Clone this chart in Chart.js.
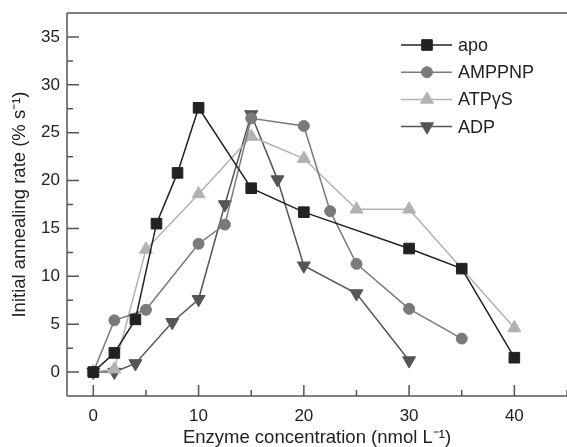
<!DOCTYPE html>
<html>
<head>
<meta charset="utf-8">
<script src="https://cdn.jsdelivr.net/npm/chart.js@4/dist/chart.umd.min.js"></script>
<style>
  html, body { margin: 0; padding: 0; background: #fff; }
  #wrap { width: 567px; height: 447px; position: relative; }
</style>
</head>
<body>
<div id="wrap"><canvas id="annealChart"></canvas></div>
<script>
// enzyme concentration (nmol/L) and initial annealing rate (%/s)
const apoX = [0, 2, 4, 6, 8, 10, 15, 20, 30, 35, 40];
const apoY = [0, 2, 5.5, 15.5, 20.8, 27.6, 19.2, 16.7, 12.9, 10.8, 1.5];

const amppnpX = [0, 2, 5, 10, 12.5, 15, 20, 22.5, 25, 30, 35];
const amppnpY = [0, 5.4, 6.5, 13.4, 15.4, 26.5, 25.7, 16.8, 11.3, 6.6, 3.5];

const atpgsX = [0, 2, 5, 10, 15, 20, 25, 30, 40];
const atpgsY = [0, 0.3, 12.8, 18.6, 24.6, 22.3, 17.0, 17.0, 4.6];

const adpX = [0, 2, 4, 7.5, 10, 12.5, 15, 17.5, 20, 25, 30];
const adpY = [0, 0, 0.9, 5.2, 7.6, 17.5, 26.9, 20.1, 11.1, 8.2, 1.2];

const xTicks = [0, 10, 20, 30, 40];
const xMinorTicks = [5, 15, 25, 35, 45];
const yTicks = [0, 5, 10, 15, 20, 25, 30, 35];
const yMinorTicks = [2.5, 7.5, 12.5, 17.5, 22.5, 27.5, 32.5];

const FONT = '"Liberation Sans", Arial, Helvetica, sans-serif';

function pts(xs, ys) {
  return xs.map((x, i) => ({ x: x, y: ys[i] }));
}

// axis frame (left, bottom, top) with inward ticks
const framePlugin = {
  id: 'frame',
  beforeDatasetsDraw(chart) {
    const { ctx, chartArea: a, scales } = chart;
    const xs = scales.x, ys = scales.y;
    ctx.save();
    ctx.strokeStyle = '#555';
    ctx.lineWidth = 1.5;
    ctx.beginPath();
    ctx.moveTo(a.left, a.top); ctx.lineTo(a.right, a.top);
    ctx.moveTo(a.left, a.top); ctx.lineTo(a.left, a.bottom);
    ctx.moveTo(a.left, a.bottom); ctx.lineTo(a.right, a.bottom);
    xTicks.forEach(v => { const p = xs.getPixelForValue(v); ctx.moveTo(p, a.bottom); ctx.lineTo(p, a.bottom - 11); });
    xMinorTicks.forEach(v => { const p = xs.getPixelForValue(v); ctx.moveTo(p, a.bottom); ctx.lineTo(p, a.bottom - 6); });
    yTicks.forEach(v => { const p = ys.getPixelForValue(v); ctx.moveTo(a.left, p); ctx.lineTo(a.left + 12, p); });
    yMinorTicks.forEach(v => { const p = ys.getPixelForValue(v); ctx.moveTo(a.left, p); ctx.lineTo(a.left + 6, p); });
    ctx.stroke();
    ctx.restore();
  }
};

// legend with a line through each marker
const lineLegend = {
  id: 'lineLegend',
  afterDraw(chart) {
    const ctx = chart.ctx;
    chart.data.datasets.forEach((ds, i) => {
      const y = 45 + i * 27.2;
      ctx.save();
      ctx.strokeStyle = ds.borderColor;
      ctx.lineWidth = ds.borderWidth;
      ctx.beginPath();
      ctx.moveTo(401, y); ctx.lineTo(452, y);
      ctx.stroke();
      ctx.fillStyle = ds.pointBackgroundColor;
      ctx.strokeStyle = ds.pointBorderColor;
      ctx.lineWidth = 1;
      Chart.helpers.drawPoint(ctx, {
        pointStyle: ds.pointStyle,
        radius: ds.pointRadius,
        rotation: ds.pointRotation || 0,
        borderWidth: 1
      }, 427, y);
      ctx.fillStyle = '#222';
      ctx.font = '18px ' + FONT;
      ctx.textBaseline = 'middle';
      ctx.fillText(ds.label, 458, y + 1);
      ctx.restore();
    });
  }
};

function series(label, xs, ys, color, style, radius, rotation) {
  return {
    label: label,
    data: pts(xs, ys),
    borderColor: color,
    borderWidth: 1.5,
    pointBackgroundColor: color,
    pointBorderColor: color,
    pointBorderWidth: 1,
    pointStyle: style,
    pointRadius: radius,
    pointHoverRadius: radius,
    pointRotation: rotation || 0,
    tension: 0,
    fill: false,
    clip: false
  };
}

new Chart(document.getElementById('annealChart'), {
  type: 'line',
  data: {
    datasets: [
      series('apo', apoX, apoY, '#222222', 'rect', 7.5),
      series('AMPPNP', amppnpX, amppnpY, '#7a7a7a', 'circle', 5.5),
      series('ATPγS', atpgsX, atpgsY, '#b2b2b2', 'triangle', 7.5),
      series('ADP', adpX, adpY, '#555555', 'triangle', 7.5, 180)
    ]
  },
  options: {
    responsive: true,
    maintainAspectRatio: false,
    animation: false,
    layout: { autoPadding: false, padding: { top: 13, right: 0, left: 0, bottom: 0 } },
    plugins: { legend: { display: false }, tooltip: { enabled: false } },
    scales: {
      x: {
        type: 'linear',
        min: -2.5,
        max: 45,
        grid: { display: false, drawTicks: false },
        border: { display: false },
        afterBuildTicks: s => { s.ticks = xTicks.map(v => ({ value: v })); },
        afterFit: s => { s.height = 51; s.paddingLeft = 0; s.paddingRight = 0; },
        ticks: { font: { family: FONT, size: 17 }, color: '#222', padding: 10, maxRotation: 0, autoSkip: false },
        title: {
          display: true,
          text: 'Enzyme concentration (nmol L⁻¹)',
          font: { family: FONT, size: 18.5 },
          color: '#222',
          padding: { top: 0, bottom: -2 }
        }
      },
      y: {
        min: -2.5,
        max: 37.5,
        grid: { display: false, drawTicks: false },
        border: { display: false },
        afterBuildTicks: s => { s.ticks = yTicks.map(v => ({ value: v })); },
        afterFit: s => { s.width = 67; s.paddingTop = 0; s.paddingBottom = 0; },
        ticks: { font: { family: FONT, size: 17 }, color: '#222', padding: 7 },
        title: {
          display: true,
          text: 'Initial annealing rate (% s⁻¹)',
          font: { family: FONT, size: 18.5 },
          color: '#222',
          padding: { top: 9, bottom: 0 }
        }
      }
    }
  },
  plugins: [framePlugin, lineLegend]
});
</script>
</body>
</html>
